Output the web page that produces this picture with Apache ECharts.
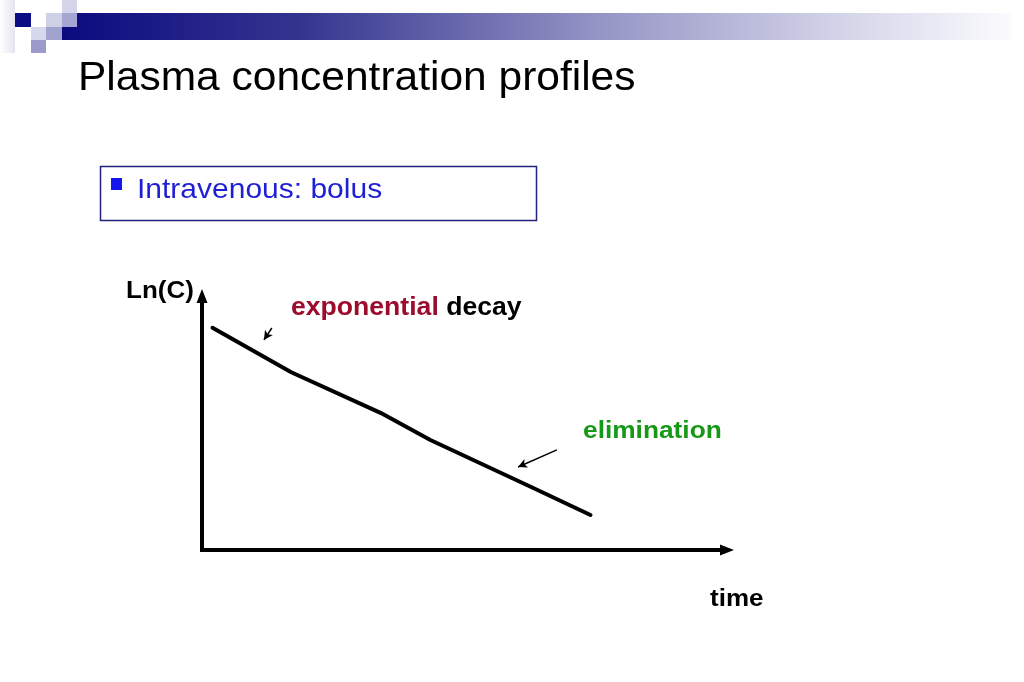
<!DOCTYPE html>
<html>
<head>
<meta charset="utf-8">
<script src="https://cdn.jsdelivr.net/npm/echarts@6/dist/echarts.min.js"></script>
<style>
  html, body { margin: 0; padding: 0; background: #ffffff; }
  #chart { width: 1024px; height: 682px; }
</style>
</head>
<body>
<div id="chart"></div>
<script>
// ---- data (axis units, no tick labels on this schematic chart) ----
var time = [0.2, 1.7, 3.4, 4.35, 6.3, 7.4];
var lnC  = [8.75, 7.0, 5.4, 4.33, 2.45, 1.38];

// annotation arrows (data units): tail -> head
var expArrowTail  = [1.33, 8.74];
var expArrowHead  = [1.18, 8.27];
var elimArrowTail = [6.76, 3.94];
var elimArrowHead = [6.02, 3.27];

var titleText  = 'Plasma concentration profiles';
var bulletText = 'Intravenous: bolus';
var yName = 'Ln(C)';
var xName = 'time';

// ---- build ----
var lineData = time.map(function (t, i) { return [t, lnC[i]]; });
var SQ = 0.935; // vertical squash of the slide text
var FONT = '"Liberation Sans", Arial, sans-serif';

function txt(x, y, text, size, weight, color, extra) {
  var st = {
    text: text, x: 0, y: 0,
    fontSize: size, fontWeight: weight, fontFamily: FONT,
    fill: color, align: 'left', verticalAlign: 'middle',
    textAlign: 'left', textVerticalAlign: 'middle'
  };
  if (extra) { for (var k in extra) st[k] = extra[k]; }
  return { type: 'text', x: x, y: y, scaleY: SQ, originX: 0, originY: 0, style: st, z: 10 };
}

function sq(x, y, w, h, c) {
  return { type: 'rect', shape: { x: x, y: y, width: w, height: h }, style: { fill: c }, z: 5 };
}

var chart = echarts.init(document.getElementById('chart'), null, { renderer: 'canvas' });

var option = {
  backgroundColor: '#ffffff',
  animation: false,
  grid: { left: 202, right: 297, top: 296, bottom: 132, containLabel: false },
  xAxis: {
    type: 'value', min: 0, max: 10,
    axisLine: { show: true, onZero: false, symbol: ['none', 'triangle'], symbolSize: [11, 14],
      lineStyle: { color: '#000', width: 4, cap: 'square' } },
    axisTick: { show: false }, axisLabel: { show: false }, splitLine: { show: false }
  },
  yAxis: {
    type: 'value', min: 0, max: 10,
    axisLine: { show: true, onZero: false, symbol: ['none', 'triangle'], symbolSize: [11, 14],
      lineStyle: { color: '#000', width: 4, cap: 'square' } },
    axisTick: { show: false }, axisLabel: { show: false }, splitLine: { show: false }
  },
  series: [{
    type: 'line',
    data: lineData,
    symbol: 'none',
    lineStyle: { color: '#000', width: 4, cap: 'round', join: 'round' },
    markLine: {
      silent: true,
      symbol: ['none', 'arrow'],
      symbolSize: [7, 9],
      label: { show: false },
      lineStyle: { color: '#000', width: 1.5, type: 'solid' },
      data: [
        [{ coord: expArrowTail }, { coord: expArrowHead }],
        [{ coord: elimArrowTail }, { coord: elimArrowHead }]
      ]
    }
  }],
  graphic: { elements: [
    // header decoration
    { type: 'rect', shape: { x: 0, y: 0, width: 15, height: 53 },
      style: { fill: new echarts.graphic.LinearGradient(0, 0, 1, 0, [
        { offset: 0, color: '#ffffff' }, { offset: 1, color: '#e4e4f1' }]) }, z: 4 },
    { type: 'rect', shape: { x: 62, y: 13, width: 950, height: 27 },
      style: { fill: new echarts.graphic.LinearGradient(0, 0, 1, 0, [
        { offset: 0, color: '#0b0b80' },
        { offset: 0.25, color: '#34348f' },
        { offset: 0.57, color: '#9696c6' },
        { offset: 0.83, color: '#d6d6ea' },
        { offset: 1, color: '#fbfbfe' }]) }, z: 4 },
    sq(62, 0, 15, 13, '#d4d4ea'),
    sq(15, 13, 16, 14, '#0c0c84'),
    sq(46, 13, 16, 14, '#cfcfe6'),
    sq(62, 13, 15, 14, '#a6a6d2'),
    sq(31, 27, 15, 13, '#d8d8ec'),
    sq(46, 27, 16, 13, '#a2a2cf'),
    sq(31, 40, 15, 13, '#9a9acb'),

    // title
    txt(78, 79, titleText, 42.5, 'normal', '#000000'),

    // bullet box
    { type: 'rect', shape: { x: 100.5, y: 166.5, width: 436, height: 54 },
      style: { fill: 'none', stroke: '#22227e', lineWidth: 1.5 }, z: 5 },
    sq(111, 178, 11, 12, '#1515ee'),
    txt(137, 190.5, bulletText, 30, 'normal', '#1f1fd6'),

    // axis names & annotations
    txt(126, 291, yName, 26, 'bold', '#000000'),
    txt(710, 599, xName, 26, 'bold', '#000000'),
    txt(583, 431, 'elimination', 26.3, 'bold', '#179817'),
    txt(291, 308.5, '{a|exponential} {b|decay}', 26.6, 'bold', '#000000', {
      rich: {
        a: { fill: '#9c0c2c', fontSize: 26.6, fontWeight: 'bold', fontFamily: FONT },
        b: { fill: '#000000', fontSize: 26.6, fontWeight: 'bold', fontFamily: FONT }
      }
    })
  ] }
};

chart.setOption(option);
</script>
</body>
</html>
